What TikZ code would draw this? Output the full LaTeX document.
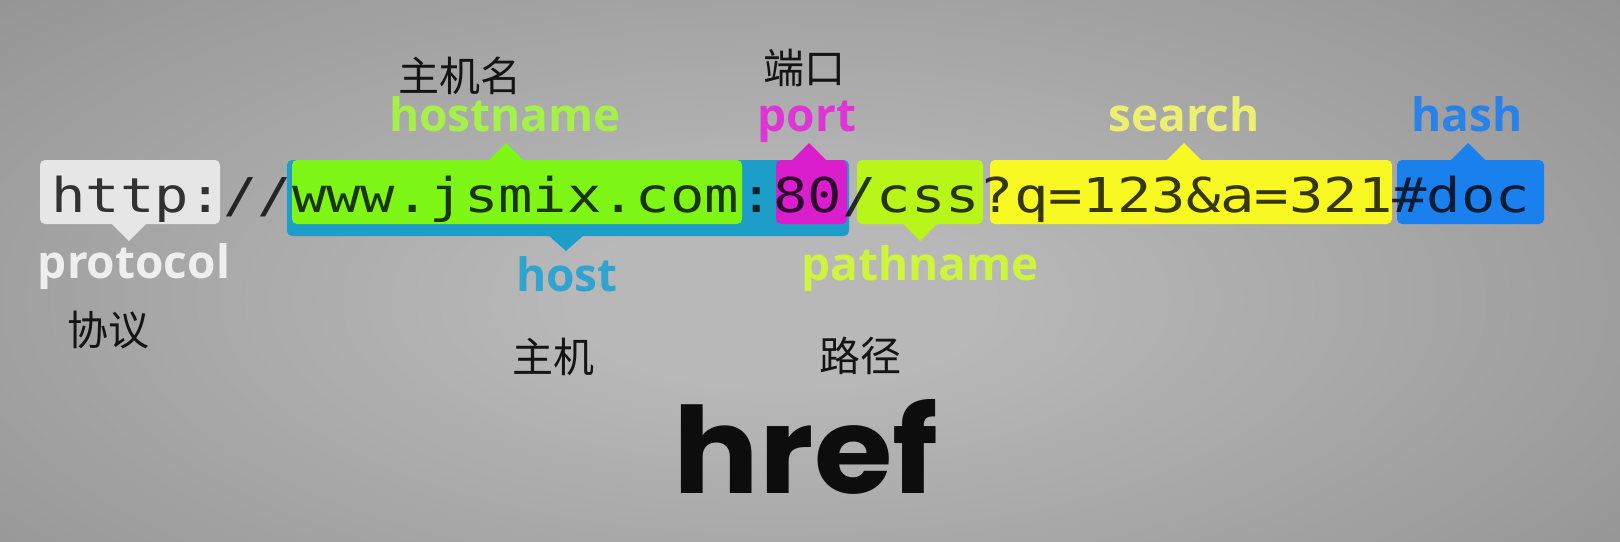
\documentclass[tikz,border=0pt]{standalone}
\usepackage{fontspec}
\newfontfamily\urlfont[FakeStretch=1.19]{DejaVu Sans Mono}
\newfontfamily\labfont{Open Sans}
\newfontfamily\cjk{Noto Sans CJK SC}
\newfontfamily\hreffont[FakeStretch=1.06]{Poppins}
\definecolor{bgin}{RGB}{184,184,184}
\definecolor{bgout}{RGB}{136,136,136}
\definecolor{cproto}{RGB}{230,230,230}
\definecolor{chostname}{RGB}{126,246,22}
\definecolor{chost}{RGB}{28,158,200}
\definecolor{cport}{RGB}{218,30,206}
\definecolor{cpath}{RGB}{184,246,26}
\definecolor{csearch}{RGB}{248,248,34}
\definecolor{chash}{RGB}{26,128,238}
\definecolor{lproto}{RGB}{238,238,238}
\definecolor{lhostname}{RGB}{166,240,74}
\definecolor{lport}{RGB}{222,54,212}
\definecolor{lsearch}{RGB}{236,240,112}
\definecolor{lhash}{RGB}{40,130,232}
\definecolor{lhost}{RGB}{48,164,208}
\definecolor{lpath}{RGB}{206,244,62}
\pgfdeclareradialshading{bgshade}{\pgfpoint{0bp}{0bp}}{color(0bp)=(bgin); color(6bp)=(bgin); color(40bp)=(bgout); color(75bp)=(bgout)}
\tikzset{
  seg/.style={rounded corners=2.5pt},
  urltext/.style={inner sep=0pt, outer sep=0pt, font=\urlfont\fontsize{24pt}{28pt}\selectfont, text=black, text opacity=0.78},
  lab/.style={inner sep=0pt, anchor=base, font=\labfont\bfseries\fontsize{23pt}{27pt}\selectfont},
  zh/.style={inner sep=0pt, font=\cjk\fontsize{20.5pt}{22pt}\selectfont, text=black!92},
  big/.style={inner sep=0pt, anchor=base, font=\hreffont\bfseries\fontsize{60pt}{66pt}\selectfont, text=black!95}
}
\begin{document}
\begin{tikzpicture}[x=0.5pt,y=-0.5pt]
\useasboundingbox (0,0) rectangle (1620,541);
\begin{scope}
\clip (0,0) rectangle (1620,541);
\shade[shading=bgshade] (-80,-60) rectangle (1640,660);
\end{scope}
% host (teal) under hostname
\fill[chost,seg] (287,160) rectangle (849,236);
\fill[chost] (548,235) -- (566,251) -- (584,235) -- cycle;
% protocol
\fill[cproto,seg] (40,160) rectangle (220,224);
\fill[cproto] (111,223) -- (129,241) -- (147,223) -- cycle;
% hostname
\fill[chostname,seg] (292,160) rectangle (742,224);
\fill[chostname] (488,161) -- (506,143) -- (524,161) -- cycle;
% port
\fill[cport,seg] (776,160) rectangle (847,224);
\fill[cport] (791,161) -- (809,143) -- (827,161) -- cycle;
% pathname
\fill[cpath,seg] (857,160) rectangle (983,224);
\fill[cpath] (902,223) -- (920,241) -- (938,223) -- cycle;
% search
\fill[csearch,seg] (990,160) rectangle (1392,224);
\fill[csearch] (1166,161) -- (1184,143) -- (1202,161) -- cycle;
% hash
\fill[chash,seg] (1397,160) rectangle (1544,224);
\fill[chash] (1450,161) -- (1468,143) -- (1486,161) -- cycle;
% url text
\node[urltext, anchor=base west] (url) at (51.4,212) {http://www.jsmix.com:80/css?q=123\&a=321\#doc};
% english labels
\node[lab, text=lhostname] (lhn) at (505,131) {hostname};
\node[lab, text=lport] (lpt) at (807,131) {port};
\node[lab, text=lsearch] (lsr) at (1184,131) {search};
\node[lab, text=lhash] (lhs) at (1467,131) {hash};
\node[lab, text=lproto] (lpr) at (134,278) {protocol};
\node[lab, text=lhost] (lho) at (567,291) {host};
\node[lab, text=lpath] (lpa) at (920,280) {pathname};
% chinese labels
\node[zh] (zhn) at (460,76) {主机名};
\node[zh] (zpt) at (804,68) {端口};
\node[zh] (zpr) at (108,330) {协议};
\node[zh] (zho) at (553,357) {主机};
\node[zh] (zpa) at (860,356) {路径};
% title
\node[big] (title) at (806,493) {href};
\end{tikzpicture}
\end{document}
